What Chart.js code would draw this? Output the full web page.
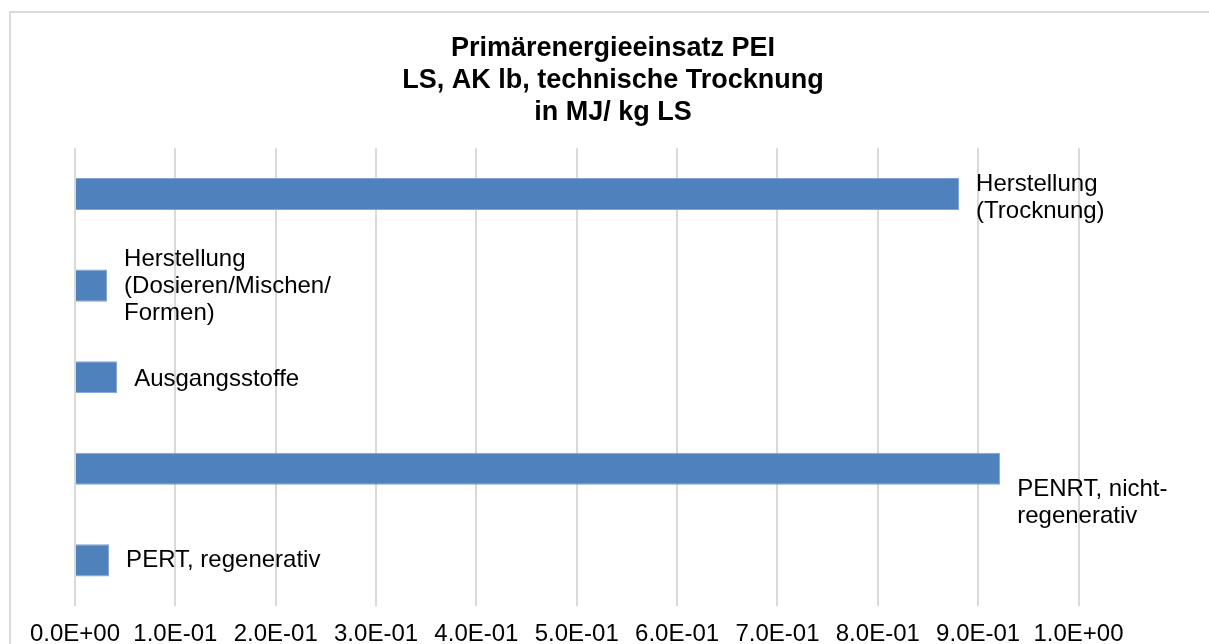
<!DOCTYPE html>
<html>
<head>
<meta charset="utf-8">
<script src="https://cdn.jsdelivr.net/npm/chart.js@4"></script>
<style>
  html, body { margin: 0; padding: 0; background: #fff; overflow: hidden; }
  #frame { position: absolute; left: 9px; top: 11px; width: 1300px; height: 700px;
           border-top: 2px solid #d9d9d9; border-left: 2px solid #d9d9d9; }
  #wrap { position: absolute; left: 0; top: 0; width: 1209px; height: 670px; }
</style>
</head>
<body>
<div id="frame"></div>
<div id="wrap"><canvas id="barChart" width="1209" height="670"></canvas></div>
<script>
const categories = [
  ['Herstellung', '(Trocknung)'],
  ['Herstellung', '(Dosieren/Mischen/', 'Formen)'],
  ['Ausgangsstoffe'],
  ['PENRT, nicht-', 'regenerativ'],
  ['PERT, regenerativ']
];
const values = [0.881, 0.032, 0.042, 0.922, 0.034];
const xTicks = [0, 0.1, 0.2, 0.3, 0.4, 0.5, 0.6, 0.7, 0.8, 0.9, 1.0];
const titleLines = ['Primärenergieeinsatz PEI', 'LS, AK lb, technische Trocknung', 'in MJ/ kg LS'];

// Excel-like formatting: 1.0E-01
function sci(v) {
  if (v === 0) return '0.0E+00';
  const e = Math.floor(Math.log10(Math.abs(v)) + 1e-9);
  const m = v / Math.pow(10, e);
  const sign = e < 0 ? '-' : '+';
  return m.toFixed(1) + 'E' + sign + String(Math.abs(e)).padStart(2, '0');
}

// labels next to the bars
const barLabels = {
  id: 'barLabels',
  afterDatasetsDraw(chart) {
    const ctx = chart.ctx;
    const meta = chart.getDatasetMeta(0);
    const lh = 27;
    const shifts = [4, 1, 2, 34, 0];
    ctx.save();
    ctx.font = '24px "Liberation Sans", Arial, sans-serif';
    ctx.fillStyle = '#000';
    ctx.textAlign = 'left';
    ctx.textBaseline = 'middle';
    meta.data.forEach((bar, i) => {
      const lines = categories[i];
      const y0 = bar.y + shifts[i] - (lines.length - 1) * lh / 2;
      lines.forEach((t, j) => ctx.fillText(t, bar.x + 17, y0 + j * lh));
    });
    ctx.restore();
  }
};

const font = '"Liberation Sans", Arial, sans-serif';

document.addEventListener('DOMContentLoaded', () => {
  const ctx = document.getElementById('barChart');
  new Chart(ctx, {
    type: 'bar',
    data: {
      labels: categories.map(c => c.join(' ')),
      datasets: [{
        data: values,
        backgroundColor: '#4f81bd',
        borderColor: '#7fa4d2',
        borderWidth: 1,
        barPercentage: 0.35,
        categoryPercentage: 1.0
      }]
    },
    options: {
      indexAxis: 'y',
      responsive: false,
      animation: false,
      layout: { padding: { left: 17, right: 0, top: 0, bottom: 7 } },
      plugins: {
        legend: { display: false },
        tooltip: { enabled: false },
        title: {
          display: true,
          text: titleLines,
          color: '#000',
          font: { family: font, size: 27, weight: 'bold', lineHeight: 1.2 },
          padding: { top: 32, bottom: 19 }
        }
      },
      scales: {
        x: {
          min: 0,
          max: 1,
          afterBuildTicks: (axis) => { axis.ticks = xTicks.map(v => ({ value: v })); },
          border: { display: false },
          grid: { color: '#d9d9d9', lineWidth: 2, drawTicks: false },
          ticks: {
            color: '#000',
            padding: 14,
            maxRotation: 0,
            font: { family: font, size: 24 },
            callback: (v) => sci(v)
          }
        },
        y: {
          position: 'left',
          border: { display: false },
          grid: { display: false },
          ticks: { display: false },
          afterFit: (s) => { s.width = 58; }
        },
        y2: {
          type: 'category',
          position: 'right',
          border: { display: false },
          grid: { display: false },
          ticks: { display: false },
          afterFit: (s) => { s.width = 130.5; }
        }
      }
    },
    plugins: [barLabels]
  });
});
</script>
</body>
</html>
